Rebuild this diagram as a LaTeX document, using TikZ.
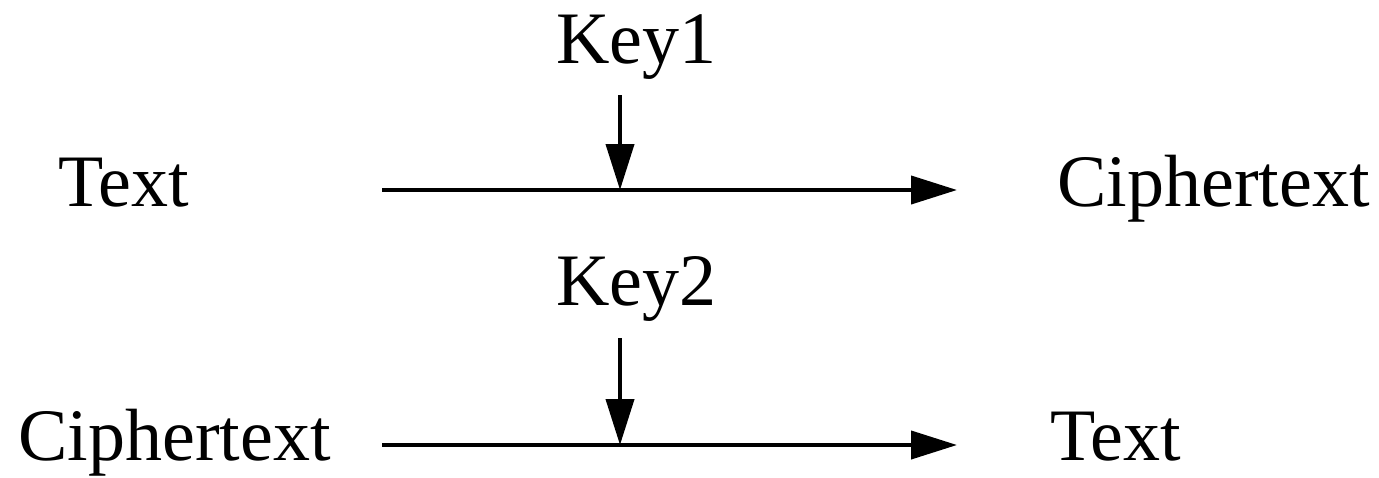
\documentclass[tikz,border=0pt]{standalone}
\usepackage{fontspec}
\setmainfont{Liberation Serif}
\usetikzlibrary{arrows.meta}
\begin{document}
\begin{tikzpicture}[x=0.5pt,y=-0.5pt,
  lbl/.style={inner sep=0pt,anchor=base west,font=\fontsize{37}{41}\selectfont},
  flow/.style={line width=2pt,-{Triangle[length=23pt,width=14pt]}}]
\useasboundingbox (0,0) rectangle (1379,477);
\node[lbl] (t1) at (58,206) {Text};
\node[lbl] (c1) at (1057,206) {Ciphertext};
\node[lbl] (k1) at (556,63) {Key1};
\node[lbl] (k2) at (556,305) {Key2};
\node[lbl] (c2) at (18,460) {Ciphertext};
\node[lbl] (t2) at (1050,460) {Text};
\coordinate (a1s) at (382,190);
\coordinate (a1e) at (957,190);
\coordinate (k1s) at (620,95);
\coordinate (k1e) at (620,190);
\coordinate (a2s) at (382,445);
\coordinate (a2e) at (957,445);
\coordinate (k2s) at (620,338);
\coordinate (k2e) at (620,445);
\draw[flow] (a1s) -- (a1e);
\draw[flow] (k1s) -- (k1e);
\draw[flow] (a2s) -- (a2e);
\draw[flow] (k2s) -- (k2e);
\end{tikzpicture}
\end{document}
